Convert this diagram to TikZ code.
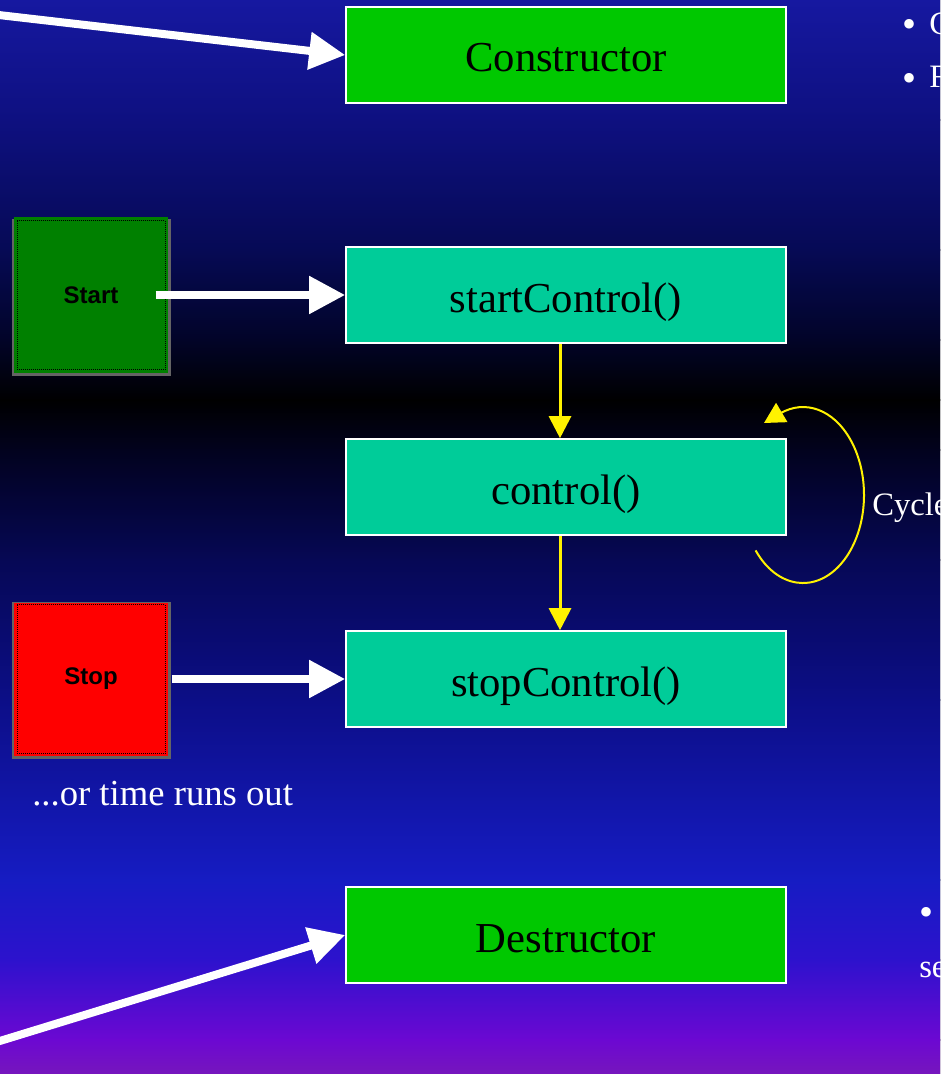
\documentclass[tikz,border=0pt]{standalone}
\usepackage{fontspec}
\setmainfont{Liberation Serif}
\newfontfamily\uisans{Liberation Sans}
\usetikzlibrary{arrows.meta}

% background gradient stops, top to bottom
\definecolor{bgA}{RGB}{22,24,160}
\definecolor{bgB}{RGB}{14,16,128}
\definecolor{bgC}{RGB}{6,10,85}
\definecolor{bgD}{RGB}{2,4,40}
\definecolor{bgE}{RGB}{0,0,0}
\definecolor{bgF}{RGB}{2,2,30}
\definecolor{bgG}{RGB}{6,8,85}
\definecolor{bgH}{RGB}{12,14,135}
\definecolor{bgI}{RGB}{22,28,195}
\definecolor{bgJ}{RGB}{45,18,205}
\definecolor{bgK}{RGB}{108,8,210}
\definecolor{bgL}{RGB}{118,22,188}

\definecolor{ctorgreen}{RGB}{0,200,0}
\definecolor{stagecyan}{RGB}{0,204,153}
\definecolor{btngreen}{RGB}{0,128,0}
\definecolor{btnred}{RGB}{255,0,0}
\definecolor{btnshadow}{RGB}{100,100,100}

\tikzset{
  stagebox/.style={draw=white, line width=1.2pt, minimum width=330pt,
    minimum height=72pt, inner sep=0pt, text=black,
    text height=25.5pt, text depth=0pt,
    font=\fontsize{32}{36}\selectfont},
  lifebox/.style={stagebox, fill=ctorgreen},
  ctrlbox/.style={stagebox, fill=stagecyan},
  buttonface/.style={draw=black, line width=0.75pt,
    dash pattern=on 0.75pt off 0.75pt, minimum width=111pt,
    minimum height=112pt, inner sep=0pt, text=black,
    font=\uisans\bfseries\fontsize{18}{20}\selectfont},
  whitearrow/.style={draw=white, line width=6pt,
    -{Triangle[length=27pt,width=27pt]}},
  yellowarrow/.style={draw=yellow, line width=2.25pt,
    -{Triangle[length=16.5pt,width=16.5pt]}},
  cyclearrow/.style={draw=yellow, line width=1.5pt,
    -{Triangle[length=15.5pt,width=16.5pt]}},
  slidetext/.style={text=white, inner sep=0pt, anchor=base west},
  edgetext/.style={slidetext, font=\fontsize{24.5}{28}\selectfont},
  bullettext/.style={slidetext, font=\fontsize{30}{32}\selectfont}
}

\begin{document}
\begin{tikzpicture}[x=0.75pt,y=-0.75pt]
\useasboundingbox (0,0) rectangle (940,1074);
\clip (0,0) rectangle (940,1074);

% vertical background gradient
\foreach \ya/\yb/\ca/\cb in {0/120/bgA/bgB, 120/250/bgB/bgC, 250/340/bgC/bgD,
    340/400/bgD/bgE, 400/450/bgE/bgF, 450/560/bgF/bgG, 560/700/bgG/bgH,
    700/880/bgH/bgI, 880/960/bgI/bgJ, 960/1040/bgJ/bgK, 1040/1074/bgK/bgL}
  \fill[top color=\ca, bottom color=\cb] (-1,\ya-0.6) rectangle (941,\yb+0.6);

% stages of the controller
\node[lifebox] (ctor)   at (566,55)  {Constructor};
\node[ctrlbox] (startc) at (566,295) {startControl()};
\node[ctrlbox] (ctrl)   at (566,487) {control()};
\node[ctrlbox] (stopc)  at (566,679) {stopControl()};
\node[lifebox] (dtor)   at (566,935) {Destructor};

% Start button with its shadow
\fill[btnshadow] (12,219) rectangle (171,376);
\fill[btngreen] (13.5,217) rectangle (168,373);
\node[buttonface] (start) at (91,295) {Start};

% Stop button with its shadow
\fill[btnshadow] (12,602) rectangle (171,759);
\fill[btnred] (13.5,603) rectangle (168,756);
\node[buttonface] (stop) at (91,679) {Stop};

% incoming white arrows
\coordinate (ctorsrc) at (-10,14);
\coordinate (dtorsrc) at (-10,1044);
\draw[whitearrow] (ctorsrc) -- (ctor.west);
\draw[whitearrow] ([xshift=-7.5pt]start.east) -- (startc.west);
\draw[whitearrow] ([xshift=4.5pt]stop.east) -- (stopc.west);
\draw[whitearrow] (dtorsrc) -- (dtor.west);

% flow between control stages
\draw[yellowarrow] ([xshift=-4.5pt]startc.south) -- ([xshift=-4.5pt]ctrl.north);
\draw[yellowarrow] ([xshift=-4.5pt]ctrl.south) -- ([xshift=-4.5pt]stopc.north);

% repeated control() cycle
\coordinate (cycfrom) at (755.6,550.4);
\coordinate (cycto) at (764,423);
\draw[cyclearrow] (cycfrom) arc[start angle=141, end angle=-112,
  x radius=61, y radius=88] -- (cycto);
\node[slidetext, font=\fontsize{24.5}{28}\selectfont] (cycle) at (872,515) {Cycle};

\node[slidetext, font=\fontsize{27.5}{32}\selectfont] (timeout) at (32,805) {...or time runs out};

% bullet text at the right edge
\node[bullettext] (bulletA) at (902,38) {•};
\node[edgetext]   (lineA)   at (929,35) {C};
\node[bullettext] (bulletB) at (902,91) {•};
\node[edgetext]   (lineB)   at (929,88) {F};
\node[bullettext] (bulletC) at (919,925) {•};
\node[edgetext]   (lineD)   at (919,977) {se};
\end{tikzpicture}
\end{document}
